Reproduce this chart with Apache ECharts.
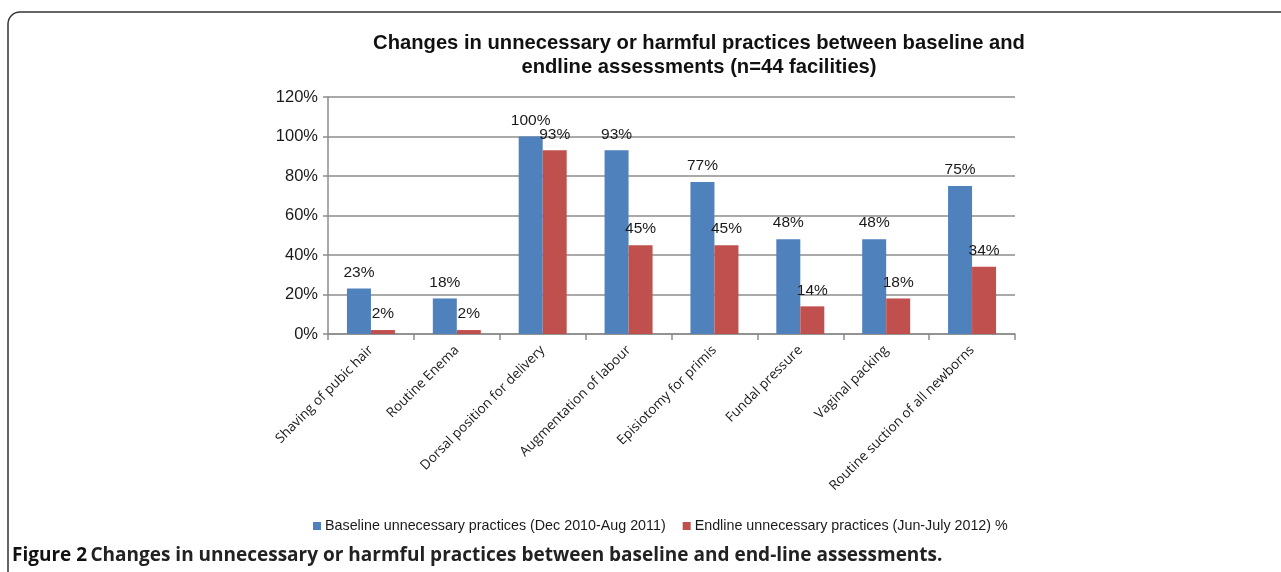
<!DOCTYPE html>
<html>
<head>
<meta charset="utf-8">
<script src="https://cdn.jsdelivr.net/npm/echarts@6/dist/echarts.min.js"></script>
<style>
  html, body { margin: 0; padding: 0; background: #fff; }
  #chart { width: 1281px; height: 572px; }
</style>
</head>
<body>
<div id="chart"></div>
<script>
// Data (percent of facilities)
const categories = [
    'Shaving of pubic hair',
    'Routine Enema',
    'Dorsal position for delivery',
    'Augmentation of labour',
    'Episiotomy for primis',
    'Fundal pressure',
    'Vaginal packing',
    'Routine suction of all newborns'
];
const baseline = [23, 18, 100, 93, 77, 48, 48, 75];
const endline = [2, 2, 93, 45, 45, 14, 18, 34];
const seriesNames = [
    'Baseline unnecessary practices (Dec 2010-Aug 2011)',
    'Endline unnecessary practices (Jun-July 2012) %'
];
const yTicks = [0, 20, 40, 60, 80, 100, 120];

const blue = '#4F81BD';
const red = '#C0504D';
const gridColor = '#8c8c8c';

const myChart = echarts.init(document.getElementById('chart'));

const labelStyle = {
    show: true,
    position: 'top',
    distance: 8,
    color: '#1a1a1a',
    fontFamily: 'Arial, Liberation Sans, sans-serif',
    fontSize: 15.5,
    formatter: p => p.value + '%'
};

const option = {
    backgroundColor: '#fff',
    animation: false,
    title: {
        text: 'Changes in unnecessary or harmful practices between baseline and\nendline assessments (n=44 facilities)',
        left: 694,
        top: 26,
        textAlign: 'center',
        textStyle: {
            fontFamily: 'Arial, Liberation Sans, sans-serif',
            fontSize: 20.2,
            fontWeight: 'bold',
            color: '#111',
            lineHeight: 24
        }
    },
    legend: {
        data: seriesNames,
        left: 308,
        top: 514,
        itemWidth: 8,
        itemHeight: 8,
        itemGap: 17,
        icon: 'rect',
        textStyle: {
            fontFamily: 'Arial, Liberation Sans, sans-serif',
            fontSize: 14.3,
            color: '#1a1a1a',
            padding: [0, 0, 0, -1]
        }
    },
    grid: {
        left: 328,
        right: 266,
        top: 97,
        bottom: 238,
        containLabel: false
    },
    xAxis: {
        type: 'category',
        data: categories,
        axisLine: { lineStyle: { color: gridColor, width: 1.5 } },
        axisTick: { show: true, length: 6, lineStyle: { color: gridColor, width: 1.5 } },
        axisLabel: {
            rotate: 45,
            interval: 0,
            margin: 14,
            fontFamily: '"Open Sans", sans-serif',
            fontSize: 13.5,
            color: '#1a1a1a'
        },
        splitLine: { show: false }
    },
    yAxis: {
        type: 'value',
        min: yTicks[0],
        max: yTicks[yTicks.length - 1],
        interval: 20,
        axisLine: { show: true, lineStyle: { color: gridColor, width: 1.5 } },
        axisTick: { show: true, length: 5, lineStyle: { color: gridColor, width: 1.5 } },
        axisLabel: {
            margin: 10,
            fontFamily: 'Arial, Liberation Sans, sans-serif',
            fontSize: 16.5,
            color: '#1a1a1a',
            formatter: v => v + '%'
        },
        splitLine: { show: true, lineStyle: { color: gridColor, width: 1.5 } }
    },
    series: [
        {
            name: seriesNames[0],
            type: 'bar',
            data: baseline,
            barWidth: 24,
            barGap: '0%',
            itemStyle: { color: blue },
            label: labelStyle
        },
        {
            name: seriesNames[1],
            type: 'bar',
            data: endline,
            barWidth: 24,
            itemStyle: { color: red },
            label: labelStyle
        }
    ],
    graphic: [
        {
            type: 'rect',
            shape: { x: 8, y: 12, width: 1300, height: 620, r: 12 },
            style: { fill: 'none', stroke: '#333', lineWidth: 1.5 },
            silent: true
        },
        {
            type: 'text',
            left: 12,
            top: 546,
            style: {
                text: '{b|Figure 2} {n|Changes in unnecessary or harmful practices between baseline and end-line assessments.}',
                rich: {
                    b: { fontFamily: '"Open Sans", sans-serif', fontWeight: 'bold', fontSize: 19, fill: '#111' },
                    n: { fontFamily: '"Open Sans", sans-serif', fontWeight: 'bold', fontSize: 19, fill: '#222' }
                }
            }
        }
    ]
};

if (option && typeof option === 'object') {
    myChart.setOption(option, true);
}
</script>
</body>
</html>
